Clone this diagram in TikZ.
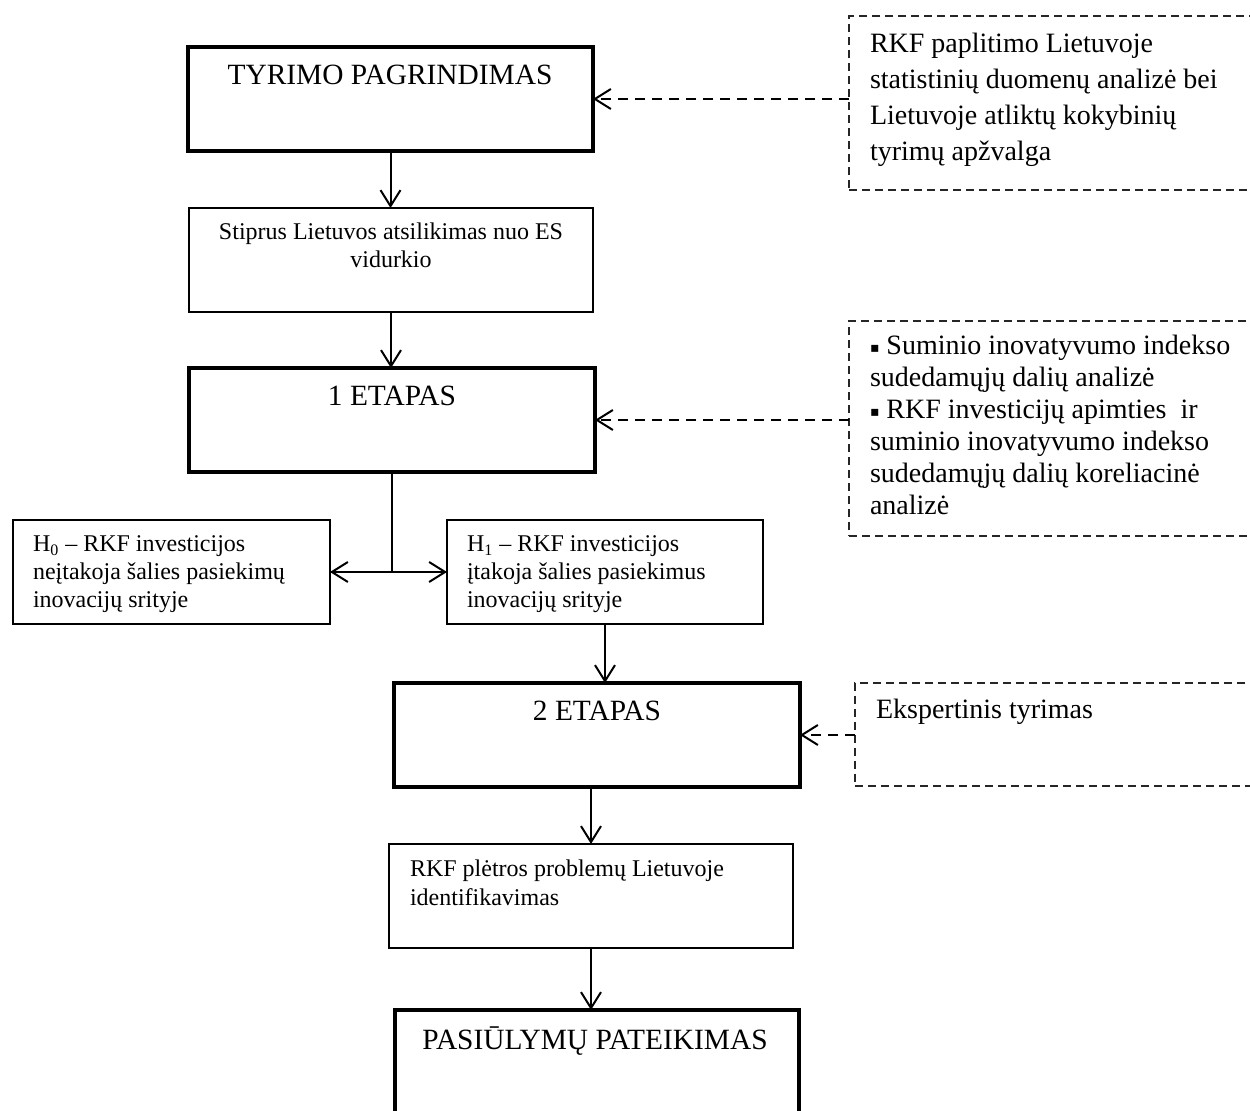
\documentclass[tikz,border=0pt]{standalone}
\usepackage{fontspec}
\setmainfont{Liberation Serif}
\newfontfamily\symfont{DejaVu Sans}
\usetikzlibrary{arrows.meta}
\newcommand{\fr}{\rule{0pt}{10pt}}
\newcommand{\blt}{\raisebox{1.2pt}{\symfont\fontsize{7}{7}\selectfont ▪}}
\begin{document}
\begin{tikzpicture}[x=0.5pt,y=-0.5pt,
  every node/.style={inner sep=0pt, outer sep=0pt},
  thickbox/.style={draw=black, line width=2pt, minimum height=52pt},
  thinbox/.style={draw=black, line width=0.6pt, minimum height=52pt},
  dashbox/.style={draw=black!85, line width=0.6pt, dash pattern=on 4pt off 2.5pt},
  arr/.style={draw=black, line width=1pt, -{Straight Barb[length=8pt,width=10pt]}},
  dasharr/.style={arr, dash pattern=on 5pt off 3.5pt},
  big/.style={font=\fontsize{14.7}{17}\selectfont},
  mid/.style={font=\fontsize{14}{18}\selectfont, align=left},
  small/.style={font=\fontsize{12}{14}\selectfont},
]
\useasboundingbox (0,0) rectangle (1250,1111);
\clip (0,0) rectangle (1250,1111);

% main boxes
\node[thickbox, minimum width=202.5pt] (b1) at (390.5,99) {};
\node[thinbox,  minimum width=202pt]   (b2) at (391,260) {};
\node[thickbox, minimum width=203pt]   (b3) at (392,420) {};
\node[thinbox,  minimum width=158.5pt] (h0) at (171.5,572) {};
\node[thinbox,  minimum width=158pt]   (h1) at (605,572) {};
\node[thickbox, minimum width=203pt]   (b4) at (597,735) {};
\node[thinbox,  minimum width=202pt]   (b5) at (591,896) {};
\node[thickbox, minimum width=202pt, minimum height=57.5pt] (b6) at (597,1067.5) {};

% dashed boxes
\node[dashbox, minimum width=208pt, minimum height=87pt]    (dA) at (1057,103) {};
\node[dashbox, minimum width=208pt, minimum height=107.5pt] (dB) at (1057,428.5) {};
\node[dashbox, minimum width=205pt, minimum height=51.5pt]  (dC) at (1060,734.5) {};

% texts
\node[big, anchor=base] (t1) at (390,85) {TYRIMO PAGRINDIMAS};
\node[small, align=center, anchor=north] (t2) at (391,220) {\fr Stiprus Lietuvos atsilikimas nuo ES\\vidurkio};
\node[big, anchor=base] (t3) at (392,406) {1 ETAPAS};
\node[small, align=left, anchor=north west] (th0) at (33,532) {\fr H\textsubscript{0} – RKF investicijos\\neįtakoja šalies pasiekimų\\inovacijų srityje};
\node[small, align=left, anchor=north west] (th1) at (467,532) {\fr H\textsubscript{1} – RKF investicijos\\įtakoja šalies pasiekimus\\inovacijų srityje};
\node[big, anchor=base] (t4) at (597,721) {2 ETAPAS};
\node[font=\fontsize{12}{14.5}\selectfont, align=left, anchor=north west] (t5) at (410,857) {\fr RKF plėtros problemų Lietuvoje\\identifikavimas};
\node[big, anchor=base] (t6) at (595,1050) {PASIŪLYMŲ PATEIKIMAS};

\node[mid, anchor=north west] (tA) at (870,33) {\fr RKF paplitimo Lietuvoje\\statistinių duomenų analizė bei\\Lietuvoje atliktų kokybinių\\tyrimų apžvalga};
\node[font=\fontsize{14}{16}\selectfont, align=left, anchor=north west] (tB) at (870,335) {\fr\blt\ Suminio inovatyvumo indekso\\sudedamųjų dalių analizė\\\blt\ RKF investicijų apimties~ ir\\suminio inovatyvumo indekso\\sudedamųjų dalių koreliacinė\\analizė};
\node[font=\fontsize{14}{18}\selectfont, anchor=base west] (tC) at (876,719) {Ekspertinis tyrimas};

% connectors
\draw[arr] (b1.south) -- (b1.south |- b2.north);
\draw[arr] (b2.south) -- (b2.south |- b3.north);
\coordinate (sp) at (b3.south |- h0.east);
\draw[arr] (b3.south) -- (sp) -- (h0.east);
\draw[arr] (sp) -- (h1.west);
\draw[arr] (h1.south) -- (h1.south |- b4.north);
\draw[arr] (b5.north |- b4.south) -- (b5.north);
\draw[arr] (b5.south) -- (b5.south |- b6.north);

\draw[dasharr] (dA.west |- b1.east) -- (b1.east);
\draw[dasharr] (dB.west |- b3.east) -- (b3.east);
\draw[dasharr] (dC.west |- b4.east) -- (b4.east);
\end{tikzpicture}
\end{document}
